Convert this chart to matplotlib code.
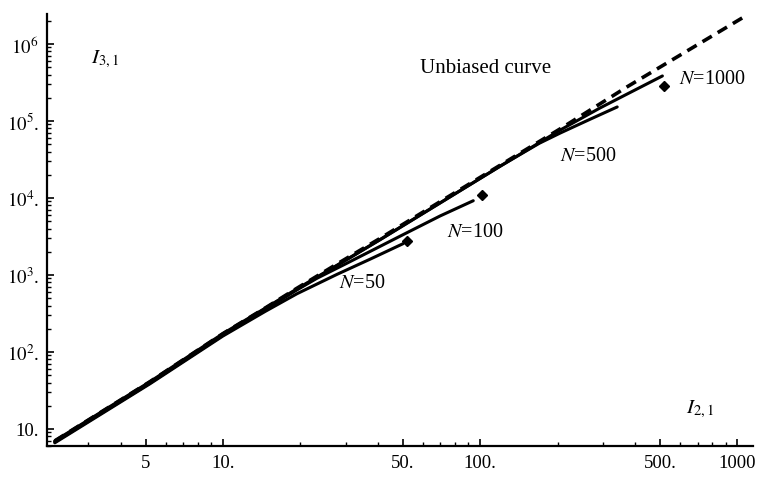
import matplotlib
matplotlib.use("Agg")
import matplotlib.pyplot as plt
from matplotlib.ticker import FixedLocator, FixedFormatter, NullFormatter

plt.rcParams['font.family'] = ['Liberation Serif', 'DejaVu Serif']
plt.rcParams['mathtext.fontset'] = 'stix'

# ---- data ----
unbiased_x = [2.22, 5.2, 10, 14.6, 19.4, 27.8, 40.8, 50.2, 69.9, 119.6, 205, 373, 1045]
unbiased_y = [7.0, 41.0, 173, 372, 672, 1390, 2980, 4560, 8950, 26600, 79200, 278000, 2180000]

n50_x = [2.22, 5.2, 10, 14.6, 19.4, 27.8, 37.3, 50.2]
n50_y = [6.6, 38.5, 161, 336, 570, 1020, 1600, 2550]

n100_x = [2.22, 5.2, 10, 14.6, 19.4, 23.2, 29.7, 50.2, 69.9, 94]
n100_y = [6.75, 39.3, 165, 356, 640, 905, 1370, 3340, 5840, 9200]

n500_x = [2.22, 5.2, 10, 14.6, 19.4, 27.8, 40.8, 69.9, 119.6, 169.8, 205, 268, 341]
n500_y = [6.9, 40.2, 169, 366, 650, 1330, 2860, 8600, 25900, 51300, 69800, 105500, 152000]

n1000_x = [2.22, 5.2, 10, 14.6, 19.4, 27.8, 40.8, 69.9, 119.6, 205, 293, 373, 511]
n1000_y = [7.0, 41.0, 173, 370, 660, 1340, 2880, 8650, 25800, 76400, 148000, 224000, 384000]

diamond_x = [52, 102, 520]
diamond_y = [2770, 10900, 285000]

curve_labels = ["$N$=50", "$N$=100", "$N$=500", "$N$=1000"]
label_x = [34.7, 95.6, 263, 800]
label_y = [787, 3614, 35100, 361000]

xtick_vals = [5, 10, 50, 100, 500, 1000]
xtick_text = ["5", "10.", "50.", "100.", "500.", "1000"]
ytick_vals = [10, 100, 1000, 1e4, 1e5, 1e6]
ytick_text = ["10.", "$10^{2}$.", "$10^{3}$.", "$10^{4}$.", "$10^{5}$.", "$10^{6}$"]

# ---- figure ----
fig = plt.figure(figsize=(7.62, 4.81), dpi=100)
ax = fig.add_axes([47/762, 1-447/481, (753-47)/762, (447-15)/481])
ax.set_xscale('log')
ax.set_yscale('log')
ax.set_xlim(2.07, 1150)
ax.set_ylim(6.0, 2.45e6)

dl, = ax.plot(unbiased_x, unbiased_y, color='black', lw=2.6, zorder=2)
dl.set_dashes([3.0, 1.9])

for xs, ys in [(n50_x, n50_y), (n100_x, n100_y), (n500_x, n500_y), (n1000_x, n1000_y)]:
    ax.plot(xs, ys, color='black', lw=2.2, solid_capstyle='round', zorder=3)

ax.plot(diamond_x, diamond_y, linestyle='none', marker='D', color='black',
        markersize=4.8, zorder=4)

for t, lx, ly in zip(curve_labels, label_x, label_y):
    ax.text(lx, ly, t, fontsize=14.5, ha='center', va='center')

ax.text(104.6, 502000, "Unbiased curve", fontsize=15, ha='center', va='center')
ax.text(3.47, 658000, "$I_{3,1}$", fontsize=15, ha='center', va='center')
ax.text(718, 18.2, "$I_{2,1}$", fontsize=15, ha='center', va='center')

for s in ['top', 'right']:
    ax.spines[s].set_visible(False)
for s in ['left', 'bottom']:
    ax.spines[s].set_linewidth(1.6)

ax.xaxis.set_major_locator(FixedLocator(xtick_vals))
ax.xaxis.set_major_formatter(FixedFormatter(xtick_text))
ax.yaxis.set_major_locator(FixedLocator(ytick_vals))
ax.yaxis.set_major_formatter(FixedFormatter(ytick_text))

xminor = [m * 10**e for e in range(0, 4) for m in range(2, 10)]
yminor = [m * 10**e for e in range(0, 7) for m in range(2, 10)]
ax.xaxis.set_minor_locator(FixedLocator(xminor))
ax.yaxis.set_minor_locator(FixedLocator(yminor))
ax.xaxis.set_minor_formatter(NullFormatter())
ax.yaxis.set_minor_formatter(NullFormatter())

ax.tick_params(which='major', direction='in', length=5, width=1.2, labelsize=13.5, pad=6)
ax.tick_params(which='minor', direction='in', length=3, width=1.0)

fig.savefig("out.png", dpi=100)
